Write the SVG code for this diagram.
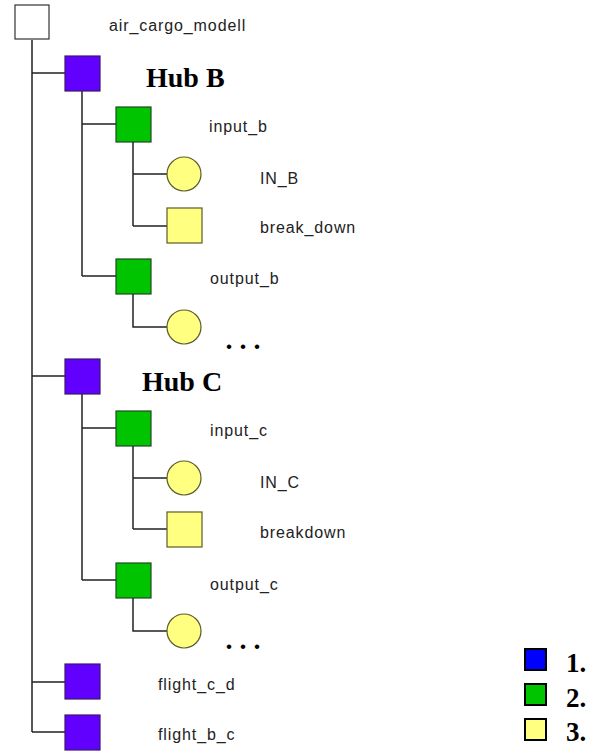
<svg xmlns="http://www.w3.org/2000/svg" width="589" height="751" viewBox="0 0 589 751">
<style>
.ln{stroke:#222;stroke-width:1.5;fill:none}
.root{fill:#fff;stroke:#333;stroke-width:1.2}
.hub{fill:#6200ff;stroke:#3a1a6a;stroke-width:1.2}
.grn{fill:#00c400;stroke:#1e4a1e;stroke-width:1.2}
.yel{fill:#ffff80;stroke:#5a5a2a;stroke-width:1.2}
.lbl{font-family:"Liberation Sans",Arial,sans-serif;font-size:16px;letter-spacing:0.9px;fill:#222}
.big{font-family:"Liberation Serif","Times New Roman",serif;font-weight:bold;font-size:28px;fill:#000}
.leg{stroke:#000;stroke-width:2}
.legt{font-family:"Liberation Serif","Times New Roman",serif;font-weight:bold;font-size:27px;fill:#000}
</style>
<rect width="589" height="751" fill="#fff"/>
<g id="connectors">
<path class="ln" d="M32 40V732M32 73H65M32 376H65M32 682H65M32 732H65"/>
<path class="ln" d="M82 91V276M82 124H116M82 276H116"/>
<path class="ln" d="M133 142V226M133 174H167M133 226H167"/>
<path class="ln" d="M133 293V327H167"/>
<path class="ln" d="M82 394V580M82 428H116M82 580H116"/>
<path class="ln" d="M133 445V529M133 478H167M133 529H167"/>
<path class="ln" d="M133 597V631H167"/>
</g>
<g id="air_cargo_modell"><rect class="root" x="15" y="5" width="34" height="34"/><text class="lbl" x="109" y="30.5">air_cargo_modell</text></g>
<g id="hub_b"><rect class="hub" x="65" y="56" width="35" height="35"/><text class="big" x="146" y="87">Hub B</text></g>
<g id="input_b"><rect class="grn" x="116" y="107" width="35" height="35"/><text class="lbl" x="209" y="132">input_b</text></g>
<g id="in_b"><circle class="yel" cx="184" cy="174" r="17"/><text class="lbl" x="260" y="183.5">IN_B</text></g>
<g id="break_down"><rect class="yel" x="167" y="208" width="35" height="35"/><text class="lbl" x="260" y="233">break_down</text></g>
<g id="output_b"><rect class="grn" x="116" y="259" width="35" height="35"/><text class="lbl" x="210" y="284">output_b</text></g>
<g id="out_b_child"><circle class="yel" cx="184" cy="327" r="17"/><text class="big" x="225.5" y="348.5">. . .</text></g>
<g id="hub_c"><rect class="hub" x="65" y="359" width="35" height="35"/><text class="big" x="142" y="391">Hub C</text></g>
<g id="input_c"><rect class="grn" x="116" y="411" width="35" height="35"/><text class="lbl" x="210" y="436">input_c</text></g>
<g id="in_c"><circle class="yel" cx="184" cy="478" r="17"/><text class="lbl" x="260" y="487.5">IN_C</text></g>
<g id="breakdown"><rect class="yel" x="167" y="512" width="35" height="35"/><text class="lbl" x="260" y="538">breakdown</text></g>
<g id="output_c"><rect class="grn" x="116" y="563" width="35" height="35"/><text class="lbl" x="210" y="590">output_c</text></g>
<g id="out_c_child"><circle class="yel" cx="184" cy="631" r="17"/><text class="big" x="225.5" y="648.5">. . .</text></g>
<g id="flight_c_d"><rect class="hub" x="65" y="664" width="35" height="35"/><text class="lbl" x="158" y="689.5">flight_c_d</text></g>
<g id="flight_b_c"><rect class="hub" x="65" y="715" width="35" height="35"/><text class="lbl" x="158" y="739.5">flight_b_c</text></g>
<g id="legend">
<rect class="leg" x="525" y="649" width="21" height="21" fill="#0000ff"/>
<rect class="leg" x="525" y="684" width="21" height="21" fill="#00c400"/>
<rect class="leg" x="525" y="719" width="21" height="21" fill="#ffff80"/>
<text class="legt" x="566" y="672">1.</text>
<text class="legt" x="566" y="707">2.</text>
<text class="legt" x="566" y="741">3.</text>
</g>
</svg>
